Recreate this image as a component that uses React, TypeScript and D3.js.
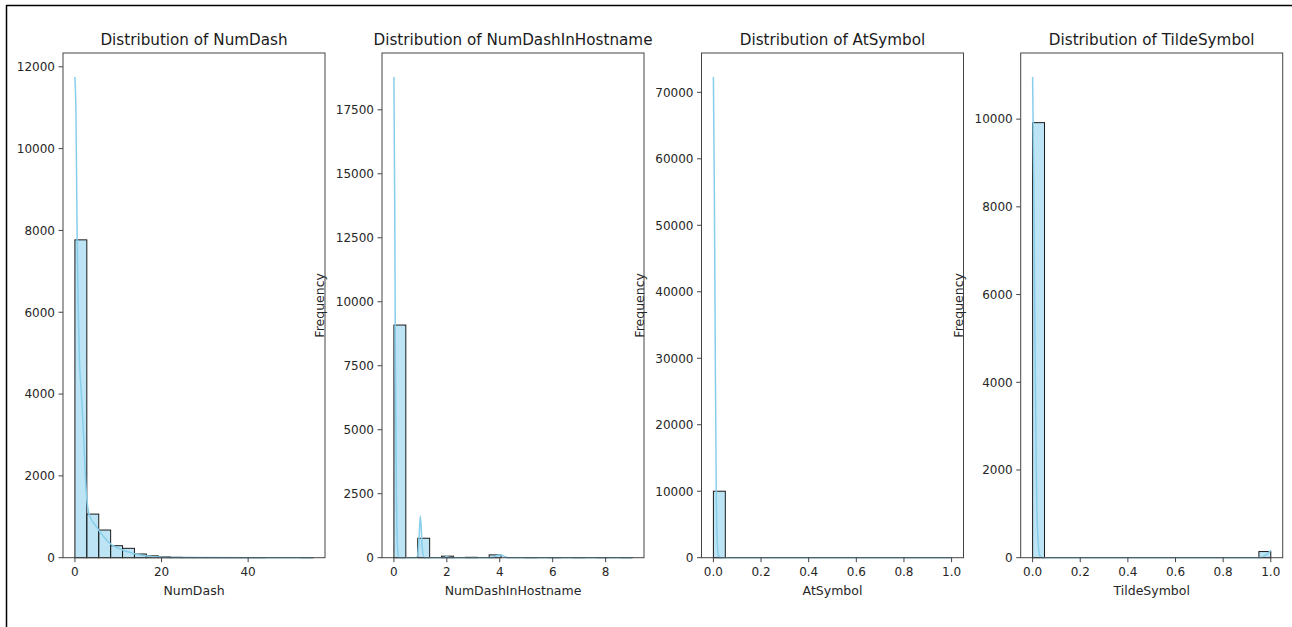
import React from 'react';
import * as d3 from 'd3';

const W = 1292, H = 627;

// NumDash: 20 bins over 0..55
const numDashCounts = [7770, 1066, 676, 293, 229, 90, 45, 20, 10, 6, 4, 3, 2, 1, 1, 1, 0, 0, 0, 1];
const numDashKdeX = [0, 0.25, 0.5, 0.75, 1, 1.5, 2, 2.5, 3, 3.5, 4, 5, 6, 7, 8, 9, 10, 11, 12, 13, 14, 15, 16, 18, 20, 25, 30, 40, 55];
const numDashKdeY = [11750, 10800, 8000, 6200, 5000, 4000, 3000, 1800, 1200, 1000, 900, 750, 600, 470, 360, 280, 230, 190, 150, 120, 90, 65, 45, 25, 12, 5, 2, 1, 0];
const numDashXTicks = [0, 20, 40];
const numDashYTicks = [0, 2000, 4000, 6000, 8000, 10000, 12000];

// NumDashInHostname: 20 bins over 0..9
const hostCounts = [9090, 0, 760, 0, 60, 0, 15, 0, 110, 0, 0, 5, 0, 3, 0, 2, 0, 1, 0, 1];
const hostKdeX = [0, 0.03, 0.06, 0.1, 0.15, 0.2, 0.85, 0.93, 1, 1.07, 1.15, 1.9, 2, 2.1, 3.7, 3.85, 4, 4.15, 4.3, 9];
const hostKdeY = [18780, 14000, 7000, 2000, 200, 0, 0, 400, 1630, 400, 0, 0, 50, 0, 0, 60, 120, 60, 0, 0];
const hostXTicks = [0, 2, 4, 6, 8];
const hostYTicks = [0, 2500, 5000, 7500, 10000, 12500, 15000, 17500];

// AtSymbol: 20 bins over 0..1
const atCounts = [10000, 0, 0, 0, 0, 0, 0, 0, 0, 0, 0, 0, 0, 0, 0, 0, 0, 0, 0, 0];
const atKdeX = [0, 0.004, 0.008, 0.012, 0.016, 0.02, 0.03, 1];
const atKdeY = [72300, 55000, 30000, 10000, 2500, 500, 0, 0];
const unitXTicks = [0, 0.2, 0.4, 0.6, 0.8, 1.0];
const atYTicks = [0, 10000, 20000, 30000, 40000, 50000, 60000, 70000];

// TildeSymbol: 20 bins over 0..1
const tildeCounts = [9920, 0, 0, 0, 0, 0, 0, 0, 0, 0, 0, 0, 0, 0, 0, 0, 0, 0, 0, 140];
const tildeKdeX = [0, 0.005, 0.01, 0.015, 0.02, 0.03, 0.04, 0.95, 0.98, 1];
const tildeKdeY = [10960, 8500, 5000, 2200, 700, 50, 0, 0, 60, 170];
const tildeYTicks = [0, 2000, 4000, 6000, 8000, 10000];

const names = ['NumDash', 'NumDashInHostname', 'AtSymbol', 'TildeSymbol'];

const panels = [
  { name: names[0], max: 55, counts: numDashCounts, kx: numDashKdeX, ky: numDashKdeY, xt: numDashXTicks, yt: numDashYTicks, fmt: (d) => String(d), ylab: false },
  { name: names[1], max: 9, counts: hostCounts, kx: hostKdeX, ky: hostKdeY, xt: hostXTicks, yt: hostYTicks, fmt: (d) => String(d), ylab: true },
  { name: names[2], max: 1, counts: atCounts, kx: atKdeX, ky: atKdeY, xt: unitXTicks, yt: atYTicks, fmt: (d) => d.toFixed(1), ylab: true },
  { name: names[3], max: 1, counts: tildeCounts, kx: tildeKdeX, ky: tildeKdeY, xt: unitXTicks, yt: tildeYTicks, fmt: (d) => d.toFixed(1), ylab: true },
];

const font = 'DejaVu Sans, sans-serif';
const axisTop = 53, axisBottom = 557.7, axisW = 262;
const lefts = [63, 382, 701.5, 1020.7];

const Panel = ({ p, left }: any) => {
  const pad = p.max * 0.05;
  const x = d3.scaleLinear().domain([-pad, p.max + pad]).range([left, left + axisW]);
  const yMax = (d3.max(p.ky) as number) * 1.05;
  const y = d3.scaleLinear().domain([0, yMax]).range([axisBottom, axisTop]);
  const bw = p.max / p.counts.length;
  const line = d3.line<number>()
    .x((d, i) => x(p.kx[i]))
    .y((d) => y(d))
    .curve(d3.curveMonotoneX);
  const cx = left + axisW / 2;

  return (
    <g>
      {p.counts.map((c, i) => c > 0 && (
        <rect key={i} x={x(i * bw)} y={y(c)} width={x((i + 1) * bw) - x(i * bw)} height={axisBottom - y(c)}
          fill="#87ceeb" fillOpacity={0.55} stroke="#1a1a1a" strokeWidth={1} />
      ))}
      <path d={line(p.ky) || ''} fill="none" stroke="#87ceeb" strokeWidth={1.5} />
      <rect x={left} y={axisTop} width={axisW} height={axisBottom - axisTop} fill="none" stroke="#444" strokeWidth={1} />
      {p.xt.map((t) => (
        <g key={t}>
          <line x1={x(t)} x2={x(t)} y1={axisBottom} y2={axisBottom + 4.5} stroke="#444" />
          <text x={x(t)} y={axisBottom + 18} textAnchor="middle" fontSize={12} fill="#262626" fontFamily={font}>{p.fmt(t)}</text>
        </g>
      ))}
      {p.yt.map((t) => (
        <g key={t}>
          <line x1={left - 4.5} x2={left} y1={y(t)} y2={y(t)} stroke="#444" />
          <text x={left - 8} y={y(t) + 4.3} textAnchor="end" fontSize={12} fill="#262626" fontFamily={font}>{t}</text>
        </g>
      ))}
      <text x={cx} y={axisTop - 8} textAnchor="middle" fontSize={15.2} fill="#1a1a1a" fontFamily={font}>{`Distribution of ${p.name}`}</text>
      <text x={cx} y={axisBottom + 37} textAnchor="middle" fontSize={12.5} fill="#262626" fontFamily={font}>{p.name}</text>
      {p.ylab && (
        <text transform={`translate(${left - 58},${(axisTop + axisBottom) / 2}) rotate(-90)`} textAnchor="middle" fontSize={12.5} fill="#262626" fontFamily={font}>Frequency</text>
      )}
    </g>
  );
};

export default function App() {
  return (
    <svg width={W} height={H} style={{ position: 'absolute', left: 0, top: 0, background: '#fff' }}>
      <rect x={0} y={0} width={W} height={H} fill="#fff" />
      {panels.map((p, i) => <Panel key={p.name} p={p} left={lefts[i]} />)}
      <line x1={6} x2={W} y1={5.5} y2={5.5} stroke="#000" strokeWidth={1.5} />
      <line x1={6.5} x2={6.5} y1={5} y2={H} stroke="#000" strokeWidth={1.5} />
    </svg>
  );
}
